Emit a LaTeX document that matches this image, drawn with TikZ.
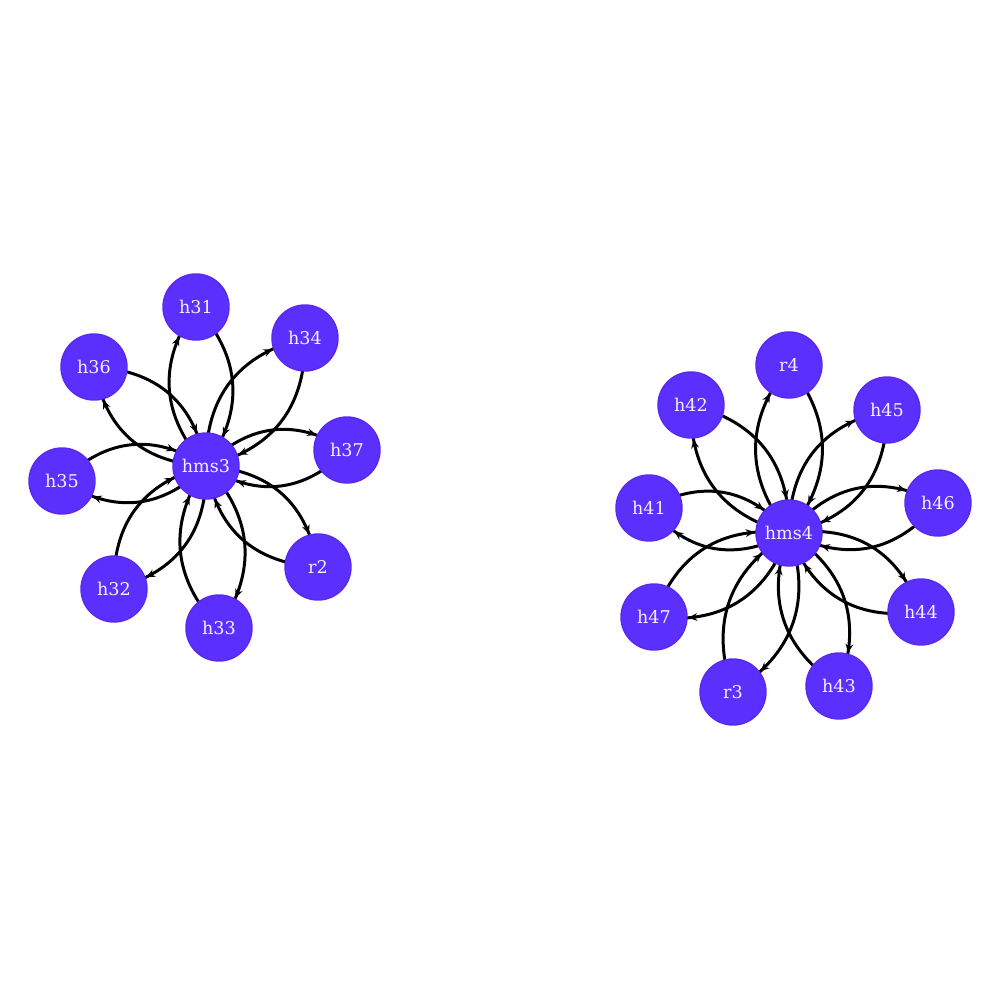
\documentclass[tikz,border=0pt]{standalone}
\usepackage{fontspec}
\setmainfont{DejaVu Serif}
\usetikzlibrary{arrows.meta,decorations.markings,backgrounds}
\definecolor{hostfill}{HTML}{5B30FF}
\definecolor{hostline}{HTML}{5A28EE}
\definecolor{hosttext}{HTML}{F4F0FF}

\begin{document}
\begin{tikzpicture}[x=0.2mm,y=-0.2mm,
    host/.style={circle,fill=hostfill,draw=hostline,line width=0.8pt,
      minimum size=13.2mm,inner sep=0pt,text=hosttext,
      font=\fontsize{10}{12}\selectfont},
    link/.style={line width=1.7pt,bend left=38.66,looseness=1.09,
      decoration={markings,mark=at position -6.9mm with
        {\arrow{Stealth[length=5pt,width=4.4pt]}}},
      postaction={decorate}}]
        \useasboundingbox (0,0) rectangle (1000,1000);
        % left switch and its hosts
        \node[host] (hms3) at (206,466) {hms3};
        \node[host] (h31) at (196,307) {h31};
        \node[host] (h34) at (305,338) {h34};
        \node[host] (h37) at (347,450) {h37};
        \node[host] (r2) at (318,567) {r2};
        \node[host] (h33) at (219,628) {h33};
        \node[host] (h32) at (114,589) {h32};
        \node[host] (h35) at (62,481) {h35};
        \node[host] (h36) at (94,367) {h36};
        % right switch and its hosts
        \node[host] (hms4) at (789,533) {hms4};
        \node[host] (r4) at (789,365) {r4};
        \node[host] (h45) at (887,410) {h45};
        \node[host] (h46) at (938,503) {h46};
        \node[host] (h44) at (921,612) {h44};
        \node[host] (h43) at (839,686) {h43};
        \node[host] (r3) at (733,692) {r3};
        \node[host] (h47) at (654,617) {h47};
        \node[host] (h41) at (649,508) {h41};
        \node[host] (h42) at (691,405) {h42};
        % links both ways, under the nodes
        \begin{pgfonlayer}{background}
        \foreach \leaf in {h31,h34,h37,r2,h33,h32,h35,h36}{
            \draw[link] (hms3.center) to (\leaf.center);
            \draw[link] (\leaf.center) to (hms3.center);
        }
        \foreach \leaf in {r4,h45,h46,h44,h43,r3,h47,h41,h42}{
            \draw[link] (hms4.center) to (\leaf.center);
            \draw[link] (\leaf.center) to (hms4.center);
        }
        \end{pgfonlayer}
    \end{tikzpicture}
\end{document}
